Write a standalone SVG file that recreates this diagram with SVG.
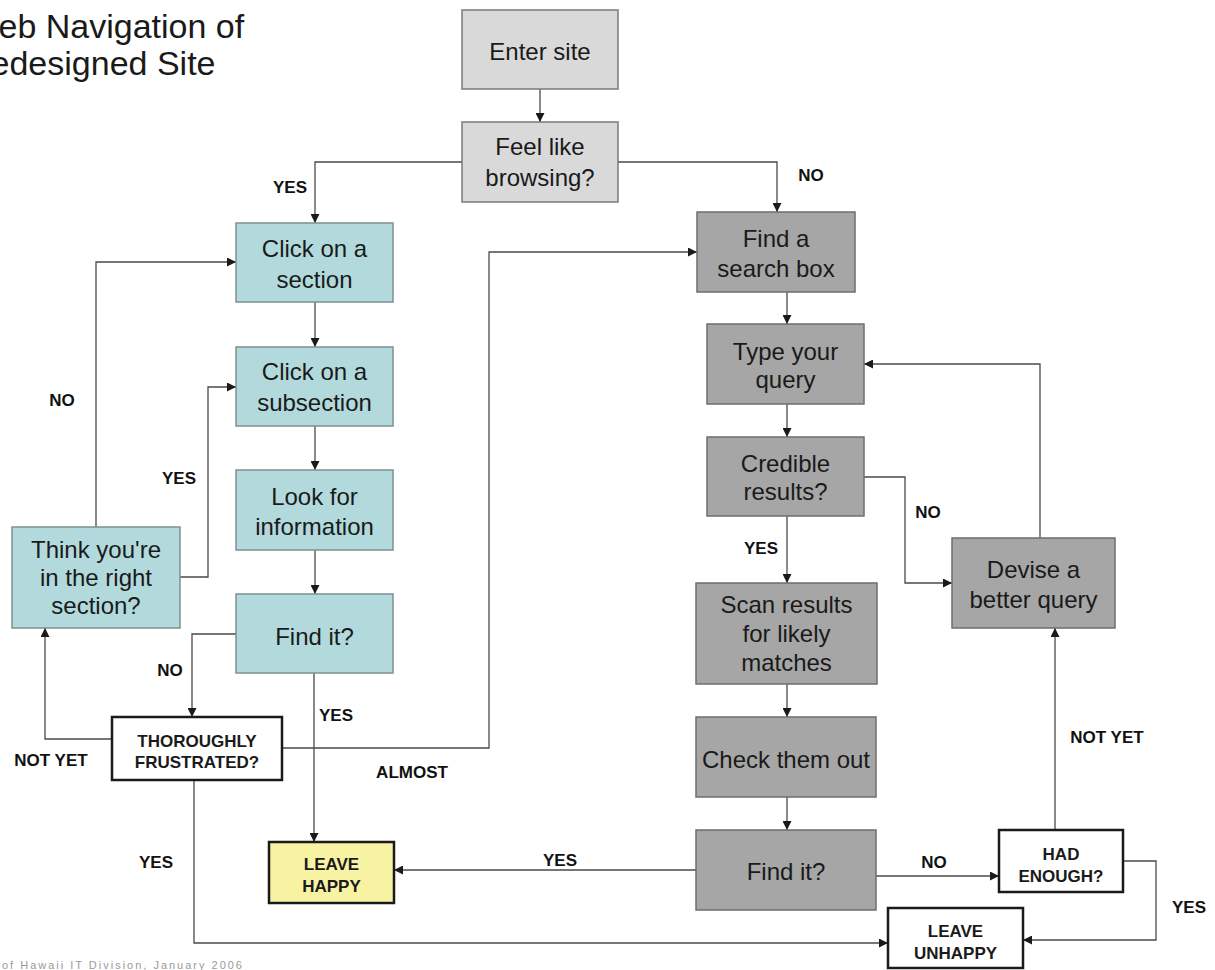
<svg xmlns="http://www.w3.org/2000/svg" width="1215" height="970" viewBox="0 0 1215 970">
<style>
.bg{fill:#ffffff}
.light{fill:#d9d9d9;stroke:#7a7a7a;stroke-width:1.5}
.teal{fill:#b2dadd;stroke:#7f8f90;stroke-width:1.5}
.dark{fill:#a6a6a6;stroke:#6e6e6e;stroke-width:1.5}
.bold{fill:#ffffff;stroke:#1a1a1a;stroke-width:2.5}
.yellow{fill:#f7f3a3;stroke:#1a1a1a;stroke-width:2.5}
.t{font-family:"Liberation Sans",Arial,sans-serif;font-size:24px;fill:#1a1a1a;text-anchor:middle}
.b{font-family:"Liberation Sans",Arial,sans-serif;font-size:17px;font-weight:bold;fill:#1a1a1a;text-anchor:middle}
.lbl{font-family:"Liberation Sans",Arial,sans-serif;font-size:17px;font-weight:bold;fill:#111;text-anchor:middle}
.title{font-family:"Liberation Sans",Arial,sans-serif;font-size:34px;fill:#1a1a1a}
.note{font-family:"Liberation Sans",Arial,sans-serif;font-size:11px;fill:#9a9a9a}
.c{fill:none;stroke:#4a4a4a;stroke-width:1.3;marker-end:url(#arr)}
</style>
<defs>
<marker id="arr" markerUnits="userSpaceOnUse" markerWidth="9" markerHeight="9" refX="9" refY="4.5" orient="auto">
<path d="M0,0 L9,4.5 L0,9 z" fill="#1a1a1a"/>
</marker>
</defs>
<rect class="bg" x="0" y="0" width="1215" height="970"/>
<g id="title">
<text class="title" x="-33" y="38">Web Navigation of</text>
<text class="title" x="-34" y="75">Redesigned Site</text>
</g>
<g id="connectors">
<path class="c" d="M540,89 V122"/>
<path class="c" d="M462,162 H315 V223"/>
<path class="c" d="M618,162 H777 V212"/>
<path class="c" d="M315,302 V347"/>
<path class="c" d="M315,426 V470"/>
<path class="c" d="M315,550 V594"/>
<path class="c" d="M314,673 V842"/>
<path class="c" d="M236,634 H192 V717"/>
<path class="c" d="M112,739 H45 V628"/>
<path class="c" d="M282,748 H489 V252 H697"/>
<path class="c" d="M194,780 V943 H888"/>
<path class="c" d="M96,527 V262 H236"/>
<path class="c" d="M180,577 H208 V387 H236"/>
<path class="c" d="M787,292 V324"/>
<path class="c" d="M787,404 V437"/>
<path class="c" d="M787,516 V583"/>
<path class="c" d="M864,477 H905 V583 H952"/>
<path class="c" d="M1040,538 V364 H864"/>
<path class="c" d="M1055,830 V628"/>
<path class="c" d="M787,684 V717"/>
<path class="c" d="M787,797 V830"/>
<path class="c" d="M696,870 H394"/>
<path class="c" d="M876,876 H999"/>
<path class="c" d="M1123,861 H1156 V940 H1023"/>
</g>
<g id="labels">
<text class="lbl" x="290" y="193">YES</text>
<text class="lbl" x="811" y="181">NO</text>
<text class="lbl" x="62" y="406">NO</text>
<text class="lbl" x="179" y="484">YES</text>
<text class="lbl" x="170" y="676">NO</text>
<text class="lbl" x="336" y="721">YES</text>
<text class="lbl" x="51" y="766">NOT YET</text>
<text class="lbl" x="412" y="778">ALMOST</text>
<text class="lbl" x="156" y="868">YES</text>
<text class="lbl" x="761" y="554">YES</text>
<text class="lbl" x="928" y="518">NO</text>
<text class="lbl" x="1107" y="743">NOT YET</text>
<text class="lbl" x="560" y="866">YES</text>
<text class="lbl" x="934" y="868">NO</text>
<text class="lbl" x="1189" y="913">YES</text>
</g>
<g id="enter-site">
<rect class="light" x="462" y="10" width="156" height="79"/>
<text class="t" x="540" y="60">Enter site</text>
</g>
<g id="feel-like-browsing">
<rect class="light" x="462" y="122" width="156" height="80"/>
<text class="t" x="540" y="155">Feel like</text>
<text class="t" x="540" y="186">browsing?</text>
</g>
<g id="click-section">
<rect class="teal" x="236" y="223" width="157" height="79"/>
<text class="t" x="314.5" y="257">Click on a</text>
<text class="t" x="314.5" y="288">section</text>
</g>
<g id="click-subsection">
<rect class="teal" x="236" y="347" width="157" height="79"/>
<text class="t" x="314.5" y="380">Click on a</text>
<text class="t" x="314.5" y="411">subsection</text>
</g>
<g id="look-for-information">
<rect class="teal" x="236" y="470" width="157" height="80"/>
<text class="t" x="314.5" y="505">Look for</text>
<text class="t" x="314.5" y="535">information</text>
</g>
<g id="find-it-left">
<rect class="teal" x="236" y="594" width="157" height="79"/>
<text class="t" x="314.5" y="645">Find it?</text>
</g>
<g id="think-right-section">
<rect class="teal" x="12" y="527" width="168" height="101"/>
<text class="t" x="96" y="558">Think you're</text>
<text class="t" x="96" y="586">in the right</text>
<text class="t" x="96" y="614">section?</text>
</g>
<g id="thoroughly-frustrated">
<rect class="bold" x="112" y="717" width="170" height="63"/>
<text class="b" x="197" y="747">THOROUGHLY</text>
<text class="b" x="197" y="768">FRUSTRATED?</text>
</g>
<g id="leave-happy">
<rect class="yellow" x="269" y="842" width="125" height="61"/>
<text class="b" x="331.5" y="870">LEAVE</text>
<text class="b" x="331.5" y="892">HAPPY</text>
</g>
<g id="find-search-box">
<rect class="dark" x="697" y="212" width="158" height="80"/>
<text class="t" x="776" y="247">Find a</text>
<text class="t" x="776" y="277">search box</text>
</g>
<g id="type-query">
<rect class="dark" x="707" y="324" width="157" height="80"/>
<text class="t" x="785.5" y="360">Type your</text>
<text class="t" x="785.5" y="388">query</text>
</g>
<g id="credible-results">
<rect class="dark" x="707" y="437" width="157" height="79"/>
<text class="t" x="785.5" y="472">Credible</text>
<text class="t" x="785.5" y="500">results?</text>
</g>
<g id="scan-results">
<rect class="dark" x="696" y="583" width="181" height="101"/>
<text class="t" x="786.5" y="613">Scan results</text>
<text class="t" x="786.5" y="642">for likely</text>
<text class="t" x="786.5" y="671">matches</text>
</g>
<g id="check-them-out">
<rect class="dark" x="696" y="717" width="180" height="80"/>
<text class="t" x="786" y="768">Check them out</text>
</g>
<g id="find-it-right">
<rect class="dark" x="696" y="830" width="180" height="80"/>
<text class="t" x="786" y="880">Find it?</text>
</g>
<g id="devise-better-query">
<rect class="dark" x="952" y="538" width="163" height="90"/>
<text class="t" x="1033.5" y="578">Devise a</text>
<text class="t" x="1033.5" y="608">better query</text>
</g>
<g id="had-enough">
<rect class="bold" x="999" y="830" width="124" height="62"/>
<text class="b" x="1061" y="860">HAD</text>
<text class="b" x="1061" y="882">ENOUGH?</text>
</g>
<g id="leave-unhappy">
<rect class="bold" x="888" y="908" width="135" height="60"/>
<text class="b" x="955.5" y="937">LEAVE</text>
<text class="b" x="955.5" y="959">UNHAPPY</text>
</g>
<g id="footnote">
<text class="note" x="2" y="969" textLength="240" lengthAdjust="spacing">of Hawaii IT Division, January 2006</text>
</g>
</svg>
